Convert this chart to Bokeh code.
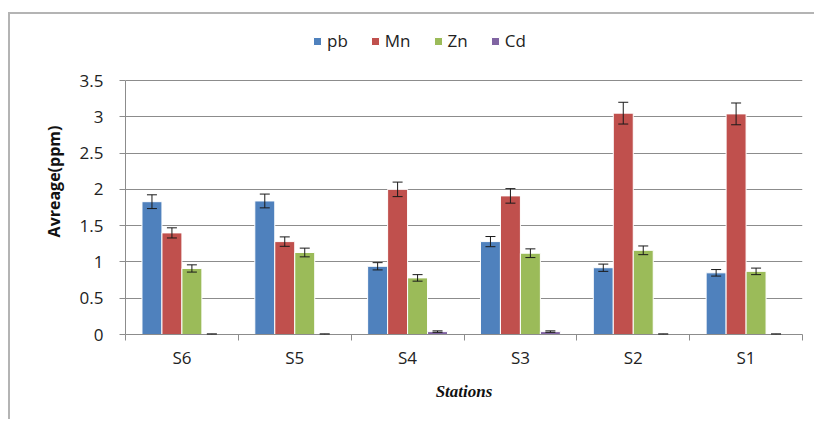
import numpy as np
from bokeh.plotting import figure
from bokeh.models import (ColumnDataSource, Whisker, TeeHead, FixedTicker, Legend,
                          LegendItem, Range1d)
from bokeh.embed import file_html
from bokeh.resources import INLINE

stations = ["S6", "S5", "S4", "S3", "S2", "S1"]
series = ["pb", "Mn", "Zn", "Cd"]
pb = [1.83, 1.84, 0.94, 1.28, 0.92, 0.85]
pb_err = [0.095, 0.095, 0.05, 0.07, 0.05, 0.045]
mn = [1.40, 1.28, 2.00, 1.91, 3.05, 3.04]
mn_err = [0.07, 0.065, 0.10, 0.10, 0.15, 0.15]
zn = [0.91, 1.13, 0.78, 1.12, 1.16, 0.87]
zn_err = [0.05, 0.06, 0.045, 0.06, 0.06, 0.045]
cd = [0.005, 0.005, 0.04, 0.04, 0.005, 0.005]
cd_err = [0.003, 0.003, 0.01, 0.01, 0.003, 0.003]
colors = ["#4F81BD", "#C0504D", "#9BBB59", "#8064A2"]
y_ticks = [0, 0.5, 1, 1.5, 2, 2.5, 3, 3.5]

values = [pb, mn, zn, cd]
errors = [pb_err, mn_err, zn_err, cd_err]

FONT = "Open Sans"
Y_MAX = 3.5
# extra headroom above the axis so the legend sits inside the frame
Y_TOP = Y_MAX * 306 / 254

p = figure(width=806, height=407, x_range=Range1d(0, 6), y_range=Range1d(0, Y_TOP),
           output_backend="svg", toolbar_location=None,
           min_border_left=115, min_border_right=14, min_border_top=14, min_border_bottom=87)
p.styles = {"margin-left": "8px", "margin-top": "12px",
            "border-left": "2px solid #b4b4b4", "border-top": "2px solid #b4b4b4"}
p.outline_line_color = None
p.background_fill_color = "white"
p.border_fill_color = "white"

centers = np.arange(len(stations)) + 0.5
bw = 0.177
offsets = [-1.5 * bw, -0.5 * bw, 0.5 * bw, 1.5 * bw]

items = []
for name, vals, errs, col, off in zip(series, values, errors, colors, offsets):
    v = np.array(vals)
    e = np.array(errs)
    src = ColumnDataSource(dict(x=centers + off, top=v, upper=v + e, lower=v - e))
    r = p.vbar(x="x", top="top", width=bw, source=src, fill_color=col,
               line_color="white", line_width=1)
    w = Whisker(source=src, base="x", upper="upper", lower="lower", dimension="height",
                line_color="#1a1a1a", line_width=1, level="overlay",
                upper_head=TeeHead(size=10, line_color="#1a1a1a", line_width=1),
                lower_head=TeeHead(size=10, line_color="#1a1a1a", line_width=1))
    p.add_layout(w)
    items.append(LegendItem(label=name, renderers=[r]))

legend = Legend(items=items, orientation="horizontal", location=(187, 282),
                glyph_width=10, glyph_height=10, label_standoff=5, spacing=22,
                padding=0, margin=0, border_line_color=None, background_fill_alpha=0,
                label_text_font=FONT, label_text_font_size="17px",
                label_text_color="#222222", label_width=0, label_height=20)
p.add_layout(legend)

# Y axis
p.yaxis.ticker = FixedTicker(ticks=y_ticks)
p.yaxis.bounds = (0, Y_MAX)
p.yaxis.axis_label = "Avreage(ppm)"
p.yaxis.axis_label_text_font = FONT
p.yaxis.axis_label_text_font_style = "bold"
p.yaxis.axis_label_text_font_size = "16px"
p.yaxis.axis_label_text_color = "#111111"
p.yaxis.axis_label_standoff = 12
p.yaxis.major_label_text_font = FONT
p.yaxis.major_label_text_font_size = "17px"
p.yaxis.major_label_text_color = "#222222"
p.yaxis.major_label_standoff = 16
p.yaxis.major_tick_out = 6
p.yaxis.major_tick_in = 0
p.yaxis.minor_tick_line_color = None
p.yaxis.axis_line_color = "#8c8c8c"
p.yaxis.major_tick_line_color = "#8c8c8c"

# X axis
p.xaxis.ticker = FixedTicker(ticks=list(centers), minor_ticks=list(range(len(stations) + 1)))
p.xaxis.major_label_overrides = {float(c): s for c, s in zip(centers, stations)}
p.xaxis.major_tick_out = 0
p.xaxis.major_tick_in = 0
p.xaxis.minor_tick_out = 6
p.xaxis.minor_tick_in = 0
p.xaxis.minor_tick_line_color = "#8c8c8c"
p.xaxis.axis_line_color = "#8c8c8c"
p.xaxis.major_label_text_font = FONT
p.xaxis.major_label_text_font_size = "17px"
p.xaxis.major_label_text_color = "#222222"
p.xaxis.major_label_standoff = 5
p.xaxis.axis_label = "Stations"
p.xaxis.axis_label_text_font = "Liberation Serif"
p.xaxis.axis_label_text_font_style = "bold italic"
p.xaxis.axis_label_text_font_size = "17px"
p.xaxis.axis_label_text_color = "#111111"
p.xaxis.axis_label_standoff = 10

p.xgrid.grid_line_color = None
p.ygrid.ticker = FixedTicker(ticks=y_ticks)
p.ygrid.grid_line_color = "#8c8c8c"
p.ygrid.grid_line_width = 1

open("out.html", "w").write(file_html(p, INLINE))
